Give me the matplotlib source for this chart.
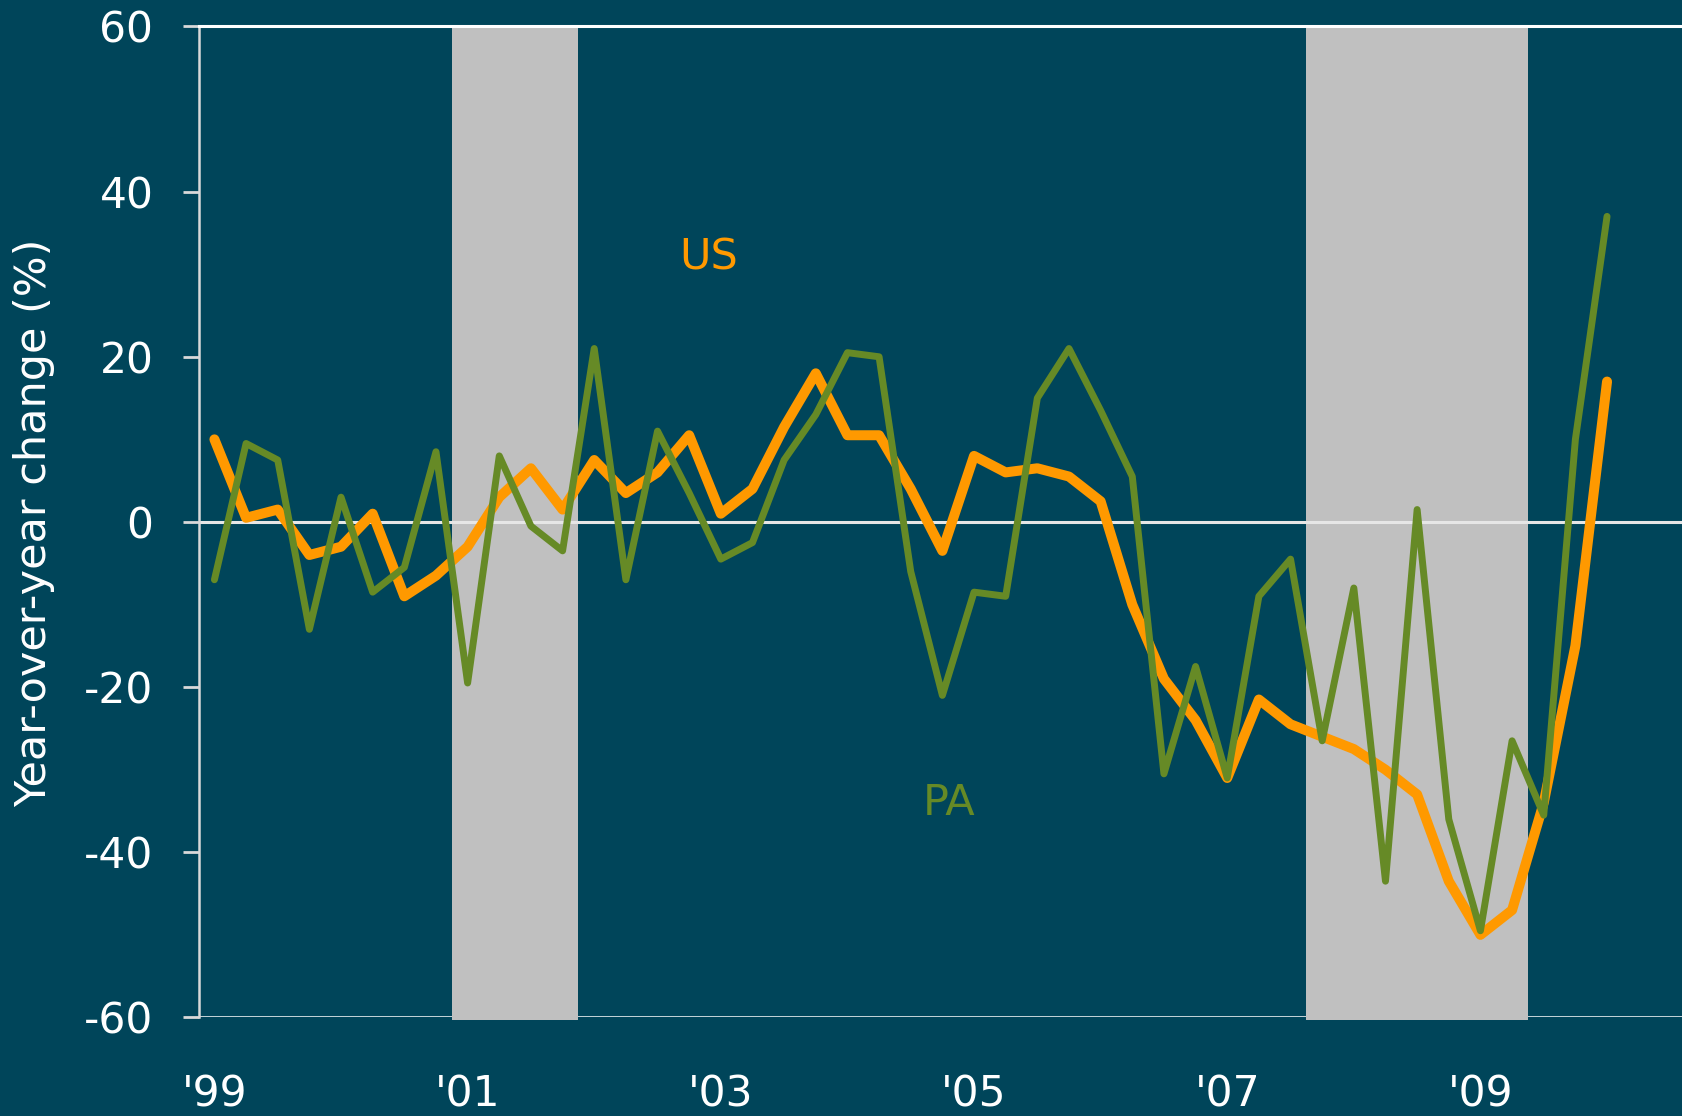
import matplotlib
matplotlib.use("Agg")
import matplotlib.pyplot as plt
import numpy as np

# ---------------------------------------------------------------------------
# Data: quarterly year-over-year change (%), 1999Q1 .. 2010Q1
# ---------------------------------------------------------------------------
us = [10, 0.5, 1.5, -4, -3, 1, -9, -6.5,
      -3, 3, 6.5, 1.5, 7.5, 3.5, 6, 10.5,
      1, 4, 11.5, 18, 10.5, 10.5, 4, -3.5,
      8, 6, 6.5, 5.5, 2.5, -10, -19, -24,
      -31, -21.5, -24.5, -26, -27.5, -30, -33, -43.5,
      -50, -47, -34, -15, 17]

pa = [-7, 9.5, 7.5, -13, 3, -8.5, -5.5, 8.5,
      -19.5, 8, -0.5, -3.5, 21, -7, 11, 3.5,
      -4.5, -2.5, 7.5, 13, 20.5, 20, -6, -21,
      -8.5, -9, 15, 21, 13.5, 5.5, -30.5, -17.5,
      -31, -9, -4.5, -26.5, -8, -43.5, 1.5, -36,
      -49.5, -26.5, -35.5, 10, 37]

year_ticks = [0, 8, 16, 24, 32, 40]
year_labels = ["'99", "'01", "'03", "'05", "'07", "'09"]

# recessions, in quarter index units (2001Q1-Q4, 2007Q4-2009Q2)
recessions = [(7.5, 11.5), (34.5, 41.5)]

y_ticks = [-60, -40, -20, 0, 20, 40, 60]

# ---------------------------------------------------------------------------
BG = "#00455A"
ORANGE = "#FF9900"
GREEN = "#668A26"
SHADE = "#C0C0C0"

plt.rcParams["font.family"] = ["DejaVu Sans"]
plt.rcParams["axes.unicode_minus"] = False

fig = plt.figure(figsize=(16.83, 11.16), dpi=100, facecolor=BG)
ax = fig.add_axes([0.118, 0.0883, 0.882, 0.888])
ax.set_facecolor(BG)

q = np.arange(len(us))

for x0, x1 in recessions:
    ax.axvspan(x0, x1, ymin=-0.003, ymax=1, color=SHADE, lw=0, zorder=1,
               clip_on=False)

ax.axhline(0, color="#E6E6E6", lw=2.2, zorder=1.5)
ax.axhline(-60, color="white", lw=1.8, zorder=0.5)

ax.plot(q, us, color=ORANGE, lw=7.2, solid_capstyle="round",
        solid_joinstyle="round", zorder=3)
ax.plot(q, pa, color=GREEN, lw=5, solid_capstyle="round",
        solid_joinstyle="round", zorder=4)

ax.text(15.6, 32, "US", color=ORANGE, fontsize=31, ha="center", va="center")
ax.text(23.2, -34, "PA", color=GREEN, fontsize=31, ha="center", va="center")

ax.set_xlim(-0.5, 46.4)
ax.set_ylim(-60, 60)

ax.set_yticks(y_ticks)
ax.set_xticks(year_ticks)
ax.set_xticklabels(year_labels)

for side in ["right", "bottom"]:
    ax.spines[side].set_visible(False)
ax.spines["left"].set_color("#D9D9D9")
ax.spines["left"].set_linewidth(1.8)
ax.spines["left"].set_zorder(5)
ax.spines["top"].set_color("white")
ax.spines["top"].set_linewidth(2.2)
ax.spines["top"].set_zorder(5)

ax.tick_params(axis="y", colors="#D9D9D9", labelcolor="white",
               length=11.5, width=2, pad=21, labelsize=30.5)
ax.tick_params(axis="x", length=0, pad=40, labelcolor="white", labelsize=30.5)

fig.text(34 / 1683, 1 - 523 / 1116, "Year-over-year change (%)",
         color="white", fontsize=31, rotation=90, ha="center", va="center")

fig.savefig("out.png", dpi=100, facecolor=BG)
